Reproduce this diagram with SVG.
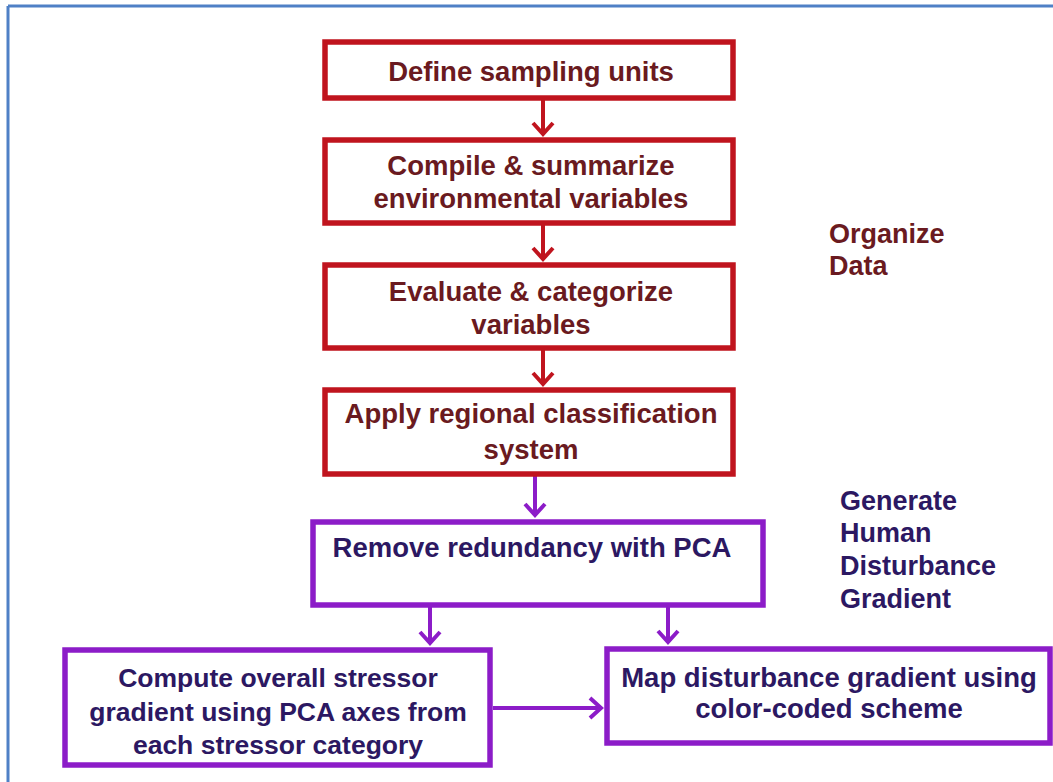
<svg xmlns="http://www.w3.org/2000/svg" width="1053" height="782" viewBox="0 0 1053 782">
  <style>
    .txt { font-family: "Liberation Sans", Arial, sans-serif; font-weight: bold; font-size: 27.5px; text-anchor: middle; }
    .small { font-size: 26.5px; }
    .side { font-family: "Liberation Sans", Arial, sans-serif; font-weight: bold; font-size: 27px; }
    .redbox { fill: #ffffff; stroke: #c0141e; stroke-width: 5.5; }
    .purbox { fill: #ffffff; stroke: #8c1cc8; stroke-width: 5.5; }
    .redtxt { fill: #6a1a20; }
    .purtxt { fill: #2c1862; }
    .redline { stroke: #c0141e; stroke-width: 4; fill: none; }
    .purline { stroke: #8c1cc8; stroke-width: 4; fill: none; }
  </style>
  <defs>
    <marker id="headRed" viewBox="0 0 24 24" refX="14" refY="12" markerWidth="24" markerHeight="24" markerUnits="userSpaceOnUse" orient="auto">
      <path d="M3,2 L14,12 L3,22" fill="none" stroke="#c0141e" stroke-width="4" stroke-linejoin="miter"/>
    </marker>
    <marker id="headPur" viewBox="0 0 24 24" refX="14" refY="12" markerWidth="24" markerHeight="24" markerUnits="userSpaceOnUse" orient="auto">
      <path d="M3,2 L14,12 L3,22" fill="none" stroke="#8c1cc8" stroke-width="4" stroke-linejoin="miter"/>
    </marker>
  </defs>

  <rect x="0" y="0" width="1053" height="782" fill="#ffffff"/>

  <!-- page frame -->
  <g id="frame" stroke="#4f80c6" stroke-width="3" fill="none">
    <line x1="8" y1="6" x2="1053" y2="6"/>
    <line x1="8" y1="6" x2="8" y2="782"/>
  </g>

  <!-- connectors -->
  <g id="connectors">
    <line class="redline" x1="543" y1="99" x2="543" y2="134" marker-end="url(#headRed)"/>
    <line class="redline" x1="543" y1="224" x2="543" y2="259" marker-end="url(#headRed)"/>
    <line class="redline" x1="543" y1="349" x2="543" y2="384" marker-end="url(#headRed)"/>
    <line class="purline" x1="535" y1="475" x2="535" y2="515" marker-end="url(#headPur)"/>
    <line class="purline" x1="430" y1="606" x2="430" y2="643" marker-end="url(#headPur)"/>
    <line class="purline" x1="668" y1="606" x2="668" y2="642" marker-end="url(#headPur)"/>
    <line class="purline" x1="493" y1="708" x2="601" y2="708" marker-end="url(#headPur)"/>
  </g>

  <!-- organize data steps -->
  <g id="define-units">
    <rect class="redbox" x="325" y="42" width="408" height="56"/>
    <text class="txt redtxt" x="531" y="81">Define sampling units</text>
  </g>
  <g id="compile-variables">
    <rect class="redbox" x="325" y="140" width="408" height="83"/>
    <text class="txt redtxt" x="531" y="175">Compile &amp; summarize</text>
    <text class="txt redtxt" x="531" y="208">environmental variables</text>
  </g>
  <g id="evaluate-variables">
    <rect class="redbox" x="325" y="265" width="408" height="83"/>
    <text class="txt redtxt" x="531" y="301">Evaluate &amp; categorize</text>
    <text class="txt redtxt" x="531" y="334">variables</text>
  </g>
  <g id="regional-classification">
    <rect class="redbox" x="325" y="390" width="408" height="84"/>
    <text class="txt redtxt" x="531" y="423">Apply regional classification</text>
    <text class="txt redtxt" x="531" y="459">system</text>
  </g>

  <!-- disturbance gradient steps -->
  <g id="remove-redundancy">
    <rect class="purbox" x="313" y="522" width="450" height="83"/>
    <text class="txt purtxt" x="532" y="557">Remove redundancy with PCA</text>
  </g>
  <g id="overall-gradient">
    <rect class="purbox" x="65" y="650" width="425" height="115"/>
    <text class="txt small purtxt" x="278" y="687">Compute overall stressor</text>
    <text class="txt small purtxt" x="278" y="721">gradient using PCA axes from</text>
    <text class="txt small purtxt" x="278" y="754">each stressor category</text>
  </g>
  <g id="map-gradient">
    <rect class="purbox" x="607" y="649" width="443" height="94"/>
    <text class="txt purtxt" x="829" y="687">Map disturbance gradient using</text>
    <text class="txt purtxt" x="829" y="718">color-coded scheme</text>
  </g>

  <!-- phase labels -->
  <g id="label-organize">
    <text class="side redtxt" x="829" y="243">Organize</text>
    <text class="side redtxt" x="829" y="275">Data</text>
  </g>
  <g id="label-generate">
    <text class="side purtxt" x="840" y="510">Generate</text>
    <text class="side purtxt" x="840" y="542">Human</text>
    <text class="side purtxt" x="840" y="575">Disturbance</text>
    <text class="side purtxt" x="840" y="608">Gradient</text>
  </g>
</svg>
